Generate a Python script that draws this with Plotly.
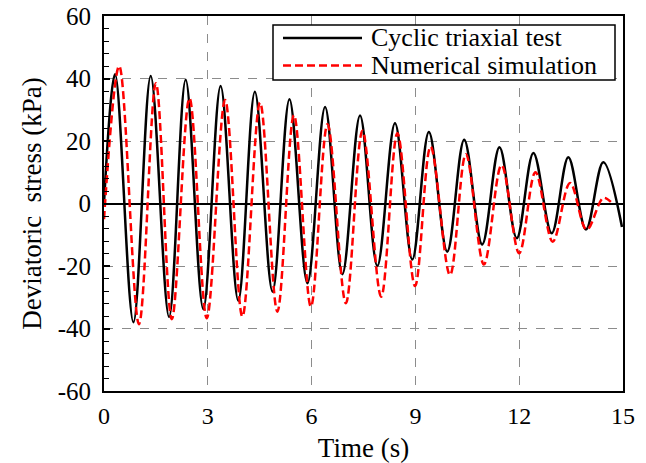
import plotly.graph_objects as go

# Cyclic triaxial test (black solid): time (s) and deviatoric stress (kPa) at extremes
test_t = [0.0, 0.32, 0.85, 1.35, 1.88, 2.36, 2.87, 3.37, 3.88, 4.36, 4.87, 5.36, 5.88,
          6.39, 6.89, 7.40, 7.90, 8.41, 8.91, 9.39, 9.92, 10.41, 10.93, 11.43, 11.93,
          12.41, 12.94, 13.42, 13.93, 14.43, 14.97]
test_q = [0.0, 41.4, -38.0, 40.8, -36.3, 39.6, -33.8, 37.6, -31.1, 35.8, -28.2, 33.4, -25.5,
          30.9, -22.6, 28.2, -20.0, 25.7, -17.9, 22.9, -15.4, 20.4, -13.1, 18.0, -11.1,
          16.2, -9.5, 14.8, -8.3, 13.2, -7.5]

# Numerical simulation (red dashed)
sim_t = [0.0, 0.44, 1.01, 1.50, 1.96, 2.47, 2.97, 3.50, 4.00, 4.51, 5.01, 5.49, 5.98,
         6.46, 6.99, 7.47, 8.01, 8.48, 8.99, 9.44, 10.00, 10.46, 10.98, 11.49, 12.00,
         12.47, 12.97, 13.47, 13.95, 14.43, 14.65]
sim_q = [-5.0, 44.0, -38.6, 38.5, -37.0, 33.7, -36.7, 33.1, -36.2, 32.3, -34.6, 28.3, -33.0,
         25.4, -31.9, 23.3, -29.8, 22.5, -26.4, 18.2, -22.9, 15.8, -19.5, 12.3, -15.9,
         10.0, -12.2, 6.6, -8.4, 1.8, 0.5]

series_names = ["Cyclic triaxial test", "Numerical simulation"]
x_ticks = [0, 3, 6, 9, 12, 15]
y_ticks = [-60, -40, -20, 0, 20, 40, 60]
y_tick_text = ["-60", "-40", "-20", "0", "20", "40", "60"]

FONT = "Liberation Serif, Times New Roman, serif"
RED_DASH = "8px,4px"

fig = go.Figure()
fig.add_trace(go.Scatter(x=test_t, y=test_q, mode="lines", name=series_names[0],
                         showlegend=False,
                         line=dict(color="black", width=2.5, shape="spline", smoothing=1.0)))
fig.add_trace(go.Scatter(x=sim_t, y=sim_q, mode="lines", name=series_names[1],
                         showlegend=False,
                         line=dict(color="#ff0000", width=2.5, dash=RED_DASH,
                                   shape="spline", smoothing=1.0)))

# Legend box drawn in paper coordinates (plot area spans 104..623 px, 16..391 px)
def px_x(p):
    return (p - 104) / 519.0

def px_y(p):
    return 1 - (p - 16) / 375.0

ROW1, ROW2 = 38.0, 65.5

shapes = [
    dict(type="rect", xref="paper", yref="paper", x0=px_x(273), x1=px_x(615),
         y0=px_y(25), y1=px_y(80), line=dict(color="black", width=1.5),
         fillcolor="white", layer="above"),
    dict(type="line", xref="paper", yref="paper", x0=px_x(283), x1=px_x(362),
         y0=px_y(ROW1), y1=px_y(ROW1), line=dict(color="black", width=2.5), layer="above"),
    dict(type="line", xref="paper", yref="paper", x0=px_x(283), x1=px_x(362),
         y0=px_y(ROW2), y1=px_y(ROW2), line=dict(color="#ff0000", width=2.5, dash=RED_DASH),
         layer="above"),
]
annotations = [
    dict(xref="paper", yref="paper", x=px_x(369), y=px_y(ROW1), text=series_names[0],
         showarrow=False, xanchor="left", yanchor="middle", height=27,
         font=dict(family=FONT, size=26, color="black")),
    dict(xref="paper", yref="paper", x=px_x(369), y=px_y(ROW2), text=series_names[1],
         showarrow=False, xanchor="left", yanchor="middle", height=27,
         font=dict(family=FONT, size=26, color="black")),
]

fig.update_layout(
    width=646, height=463,
    margin=dict(l=104, r=23, t=16, b=72),
    paper_bgcolor="white", plot_bgcolor="white",
    font=dict(family=FONT, size=24, color="black"),
    showlegend=False,
    shapes=shapes, annotations=annotations,
    xaxis=dict(range=[0, 15], tickvals=x_ticks, ticks="", showline=True, mirror=True,
               linecolor="black", linewidth=2, showgrid=True, gridcolor="#8c8c8c",
               griddash="dash", gridwidth=1, zeroline=False, automargin=False,
               tickfont=dict(family=FONT, size=24), ticklabelstandoff=2,
               title=dict(text="Time (s)", font=dict(family=FONT, size=27), standoff=14)),
    yaxis=dict(range=[-60, 60], tickvals=y_ticks, ticktext=y_tick_text,
               ticks="inside", ticklen=6, tickwidth=1.5, automargin=False,
               tickcolor="black", showline=True, mirror=True, linecolor="black", linewidth=2,
               showgrid=True, gridcolor="#8c8c8c", griddash="dash", gridwidth=1,
               zeroline=True, zerolinecolor="black", zerolinewidth=1.5,
               minor=dict(dtick=4, ticks="inside", ticklen=5, tickwidth=1.2, tickcolor="black",
                          showgrid=False),
               tickfont=dict(family=FONT, size=25), ticklabelstandoff=6,
               title=dict(text="Deviatoric  stress (kPa)", font=dict(family=FONT, size=27),
                          standoff=8)),
)

fig.write_html("out.html")
